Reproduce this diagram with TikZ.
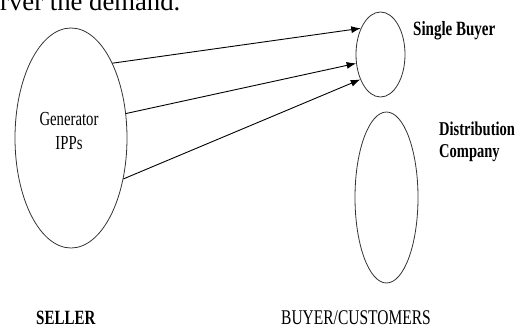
\documentclass[tikz,border=0pt]{standalone}
\usepackage{fontspec}
\setmainfont{Liberation Serif}
\usetikzlibrary{shapes.geometric,arrows.meta}

\tikzset{
  party/.style={ellipse, draw=black!80, line width=.8pt, inner sep=0pt},
  lbl/.style={font=\fontsize{15}{19}\selectfont\bfseries, yscale=1.35, transform shape, inner sep=0pt},
  flow/.style={-{Latex[length=9.5pt,width=7pt]}, line width=.9pt},
}

\begin{document}
\begin{tikzpicture}[x=1pt,y=-1pt]
   \useasboundingbox (0,0) rectangle (521,329);
   \clip (0,0) rectangle (521,329);

   \node[anchor=base west, inner sep=0pt, font=\fontsize{26.7}{30}\selectfont] (intro) at (0,11) {rver the demand.};

   \node[party, minimum width=112pt, minimum height=220pt] (gen) at (71,138) {};
   \node[party, minimum width=49pt, minimum height=85pt] (sb) at (380.5,54.5) {};
   \node[party, minimum width=63pt, minimum height=171pt] (dc) at (386.5,197.5) {};

   \node[lbl, align=center, font=\fontsize{14.75}{17.8}\selectfont] (gentxt) at (69,131) {Generator\\IPPs};
   \node[lbl, anchor=base west] (sbtxt) at (413,36) {Single Buyer};
   \node[lbl, anchor=base west, align=left, font=\fontsize{14.5}{15.6}\selectfont\bfseries] (dctxt) at (439,157) {Distribution\\Company};

   \node[lbl, anchor=base west] (seller) at (36,324) {SELLER};
   \node[lbl, anchor=base west, font=\fontsize{15.5}{19}\selectfont] (buyer) at (281,324) {BUYER/CUSTOMERS};

   \draw[flow] (gen.61) -- (sb.127);
   \draw[flow] (gen.24) -- (sb.200);
   \draw[flow] (gen.-38) -- (sb.231);
\end{tikzpicture}
\end{document}
